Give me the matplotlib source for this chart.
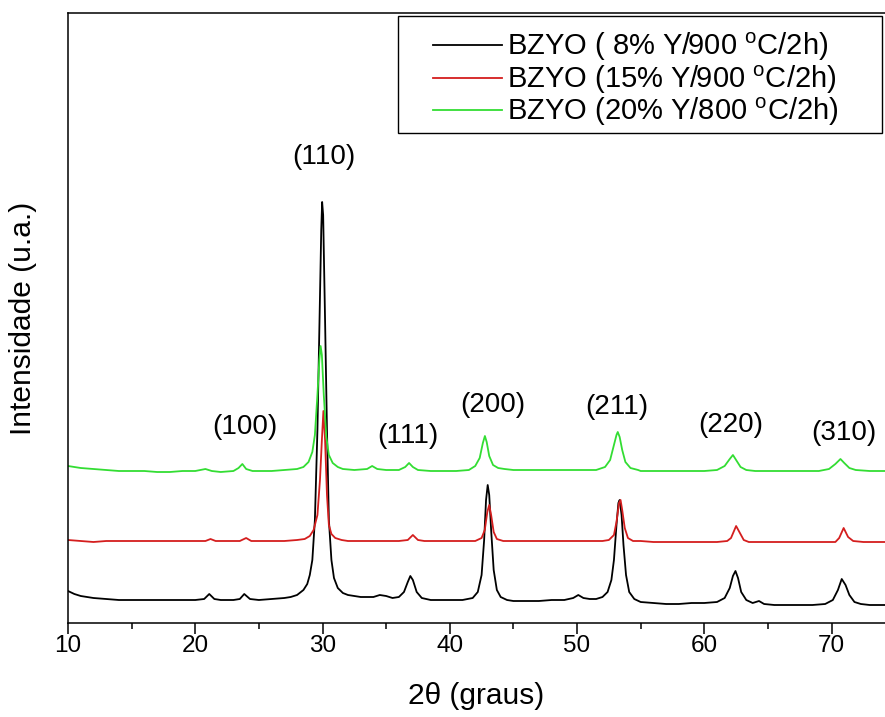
import matplotlib
matplotlib.use('Agg')
import matplotlib.pyplot as plt
from matplotlib.patches import Rectangle

plt.rcParams['font.family'] = ['Liberation Sans', 'DejaVu Sans']
plt.rcParams['mathtext.fontset'] = 'custom'
plt.rcParams['mathtext.rm'] = 'Liberation Sans'
plt.rcParams['mathtext.it'] = 'Liberation Sans:italic'

# 2theta (graus) and intensity (u.a.), curves already offset
tt_8 = [10.0, 10.5, 11.0, 12.0, 13.0, 14.0, 15.0, 16.0, 17.0, 18.0, 19.0, 20.0,
        20.7, 21.1, 21.5, 22.0, 23.0, 23.5, 23.85, 24.3, 25.0, 26.0, 27.0, 27.5,
        28.0, 28.5, 28.8, 29.0, 29.2, 29.4, 29.6, 29.75, 29.9, 29.97, 30.05, 30.2,
        30.35, 30.5, 30.7, 30.9, 31.2, 31.6, 32.0, 33.0, 34.0, 34.5, 35.0, 35.5,
        36.0, 36.4, 36.7, 36.9, 37.1, 37.4, 37.8, 38.5, 39.0, 40.0, 41.0, 41.8,
        42.2, 42.5, 42.7, 42.85, 42.98, 43.1, 43.25, 43.45, 43.7, 44.0, 44.5, 45.0,
        46.0, 47.0, 48.0, 49.0, 49.7, 50.1, 50.5, 51.0, 51.5, 52.0, 52.4, 52.7,
        52.9, 53.1, 53.25, 53.35, 53.5, 53.65, 53.85, 54.1, 54.5, 55.0, 56.0, 57.0,
        58.0, 59.0, 60.0, 61.0, 61.6, 62.0, 62.25, 62.45, 62.65, 62.9, 63.3, 63.8,
        64.3, 64.7, 65.5, 66.5, 67.5, 68.5, 69.5, 70.1, 70.5, 70.8, 71.1, 71.4,
        71.8, 72.3, 73.0, 74.2]
int_8 = [32, 29, 27, 25, 24, 23, 23, 23, 23, 23, 23, 23,
         24, 29, 24, 23, 23, 24, 29, 24, 23, 24, 25, 26,
         28, 33, 39, 48, 63, 103, 193, 293, 393, 421, 408, 303,
         193, 103, 63, 45, 35, 30, 28, 26, 26, 28, 27, 25,
         26, 31, 41, 47, 43, 31, 25, 23, 23, 23, 23, 25,
         31, 48, 83, 123, 138, 128, 93, 53, 33, 26, 23, 22,
         22, 22, 23, 23, 25, 28, 25, 24, 24, 26, 31, 43,
         63, 98, 120, 123, 108, 78, 48, 31, 24, 21, 20, 19,
         19, 20, 20, 21, 25, 35, 47, 52, 45, 31, 23, 20,
         22, 19, 18, 18, 18, 18, 19, 23, 33, 44, 38, 28,
         21, 19, 18, 18]

tt_15 = [10.0, 11.0, 12.0, 13.0, 14.0, 15.0, 16.0, 17.0, 18.0, 19.0, 20.0, 20.8,
         21.2, 21.6, 22.5, 23.5, 24.0, 24.4, 25.0, 26.0, 27.0, 28.0, 28.6, 29.0,
         29.3, 29.6, 29.8, 29.95, 30.07, 30.2, 30.35, 30.5, 30.7, 31.0, 31.5, 32.0,
         33.0, 34.0, 35.0, 36.0, 36.7, 37.1, 37.5, 38.0, 39.0, 40.0, 41.0, 42.0,
         42.5, 42.75, 42.95, 43.1, 43.25, 43.45, 43.7, 44.2, 45.0, 46.0, 47.0, 48.0,
         49.0, 50.0, 51.0, 52.0, 52.5, 52.9, 53.1, 53.3, 53.42, 53.55, 53.75, 54.0,
         54.4, 55.0, 56.0, 57.0, 58.0, 59.0, 60.0, 61.0, 61.8, 62.1, 62.5, 62.8,
         63.1, 63.5, 64.0, 65.0, 66.0, 67.0, 68.0, 69.0, 70.3, 70.6, 70.95, 71.3,
         71.7, 72.5, 74.2]
int_15 = [83, 82, 81, 82, 82, 82, 82, 82, 82, 82, 82, 82,
          84, 82, 82, 82, 85, 82, 82, 82, 82, 83, 84, 87,
          93, 108, 143, 183, 212, 183, 128, 98, 89, 85, 83, 82,
          82, 82, 82, 82, 83, 88, 83, 82, 82, 82, 82, 82,
          85, 93, 111, 118, 108, 91, 84, 82, 82, 82, 82, 82,
          82, 82, 82, 82, 83, 88, 101, 120, 123, 113, 95, 85,
          82, 82, 81, 81, 81, 81, 81, 81, 82, 85, 97, 90,
          83, 81, 81, 81, 81, 81, 81, 81, 81, 85, 95, 86,
          82, 81, 81]

tt_20 = [10.0, 11.0, 12.0, 13.0, 14.0, 15.0, 16.0, 17.0, 18.0, 19.0, 20.0, 20.8,
         21.3, 22.0, 23.0, 23.4, 23.7, 24.0, 24.5, 25.0, 26.0, 27.0, 28.0, 28.5,
         28.9, 29.2, 29.4, 29.6, 29.75, 29.85, 29.95, 30.1, 30.3, 30.5, 30.8, 31.2,
         31.6, 32.5, 33.5, 33.9, 34.3, 35.0, 36.0, 36.5, 36.8, 37.1, 37.5, 38.5,
         39.5, 40.5, 41.5, 42.0, 42.35, 42.6, 42.76, 42.9, 43.1, 43.4, 43.8, 44.3,
         45.0, 46.0, 47.0, 48.0, 49.0, 50.0, 51.0, 51.5, 52.2, 52.6, 52.9, 53.1,
         53.2, 53.35, 53.55, 53.8, 54.2, 54.8, 55.0, 56.0, 57.0, 58.0, 59.0, 60.0,
         61.0, 61.6, 62.0, 62.25, 62.5, 62.85, 63.3, 64.0, 65.0, 66.0, 67.0, 68.0,
         69.0, 69.8, 70.3, 70.7, 71.0, 71.4, 71.9, 73.0, 74.2]
int_20 = [157, 155, 154, 153, 152, 152, 152, 151, 151, 152, 152, 154,
          152, 151, 152, 155, 159, 154, 152, 152, 152, 153, 154, 156,
          161, 171, 188, 228, 263, 277, 268, 228, 186, 168, 160, 156,
          154, 153, 154, 157, 154, 153, 153, 156, 160, 156, 153, 152,
          152, 152, 153, 157, 165, 180, 187, 181, 167, 158, 155, 154,
          153, 153, 153, 153, 153, 153, 153, 153, 156, 163, 178, 188,
          191, 186, 173, 161, 155, 153, 152, 152, 152, 152, 152, 152,
          153, 157, 164, 168, 163, 156, 153, 152, 152, 152, 152, 152,
          152, 154, 159, 164, 160, 155, 153, 152, 152]

labels = ['BZYO ( 8% Y/900 $^{\\rm o}$C/2h)',
          'BZYO (15% Y/900 $^{\\rm o}$C/2h)',
          'BZYO (20% Y/800 $^{\\rm o}$C/2h)']
colors = ['#000000', '#d41e1e', '#33dd33']

hkl = ['(100)', '(110)', '(111)', '(200)', '(211)', '(220)', '(310)']
hkl_x = [23.9, 30.1, 36.7, 43.4, 53.1, 62.1, 71.0]
hkl_y = [196, 466, 187, 218, 216, 198, 190]

fig = plt.figure(figsize=(8.85, 7.17), dpi=100)
ax = fig.add_axes([68 / 885, 94 / 717, 817 / 885, 610 / 717])

for tt, it, c, lab in zip([tt_8, tt_15, tt_20], [int_8, int_15, int_20], colors, labels):
    ax.plot(tt, it, color=c, lw=1.3, label=lab)

for s, x, y in zip(hkl, hkl_x, hkl_y):
    ax.text(x, y, s, fontsize=20, ha='center', va='center')

ax.set_xlim(10, 74.2)
ax.set_ylim(0, 610)
ax.set_xticks(range(10, 71, 10))
ax.set_xticks(range(15, 75, 10), minor=True)
ax.set_yticks([])
ax.spines['right'].set_visible(False)
for sp in ['left', 'bottom', 'top']:
    ax.spines[sp].set_linewidth(1.1)
ax.tick_params(axis='x', which='major', direction='out', length=8, width=1.1,
               labelsize=17.5, pad=0.5)
ax.tick_params(axis='x', which='minor', direction='out', length=4, width=1.1)

ax.set_xlabel('2θ (graus)', fontsize=21.5, labelpad=18)
ax.set_ylabel('Intensidade (u.a.)', fontsize=21.5, labelpad=22)

# legend contents without its own frame, box drawn separately
leg = ax.legend(loc='upper left', bbox_to_anchor=(433 / 885, 686 / 717),
                bbox_transform=fig.transFigure, fontsize=21, handlelength=2.35,
                labelspacing=0.0, borderpad=0, borderaxespad=0,
                handletextpad=0.2, frameon=False)
fig.add_artist(Rectangle((398 / 885, (717 - 133) / 717), 484 / 885, 117 / 717,
                         transform=fig.transFigure, fill=False,
                         edgecolor='black', lw=1.0))

fig.savefig('out.png', dpi=100)
